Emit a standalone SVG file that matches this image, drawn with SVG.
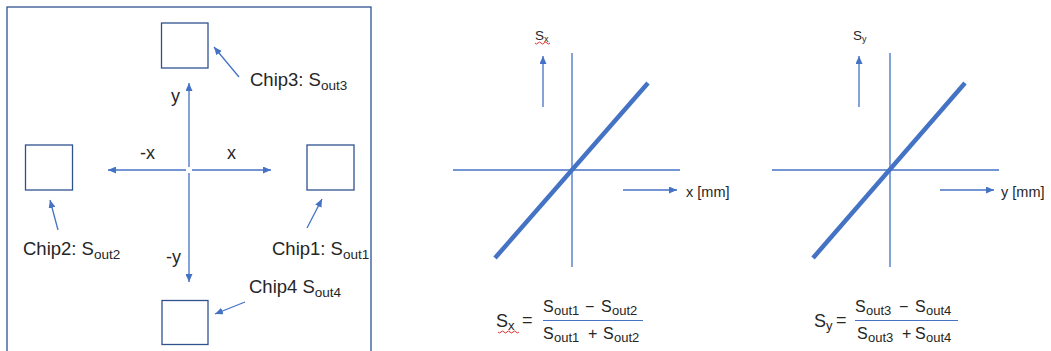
<svg xmlns="http://www.w3.org/2000/svg" width="1051" height="351" viewBox="0 0 1051 351">
<defs>
<marker id="ah" viewBox="0 0 8 7" refX="8" refY="3.5" markerWidth="8" markerHeight="7" markerUnits="userSpaceOnUse" orient="auto">
<path d="M0,0 L8,3.5 L0,7 z" fill="#4472C4"/>
</marker>
<style>
.t{font-family:"Liberation Sans",Arial,sans-serif;fill:#262626}
.lbl{font-size:18.5px}
.sub{font-size:13.5px}
.ax{font-size:18px}
.f{font-size:16px}
.fs{font-size:13px}
.g{font-size:14.5px}
.ln{stroke:#4472C4;stroke-width:1.3;fill:none}
.arr{stroke:#4472C4;stroke-width:1.3;fill:none;marker-end:url(#ah)}
.box{fill:#ffffff;stroke:#2F528F;stroke-width:1.3}
.thick{stroke:#4472C4;stroke-width:4.5;stroke-linecap:butt}
.wave{stroke:#E03030;stroke-width:1;fill:none}
</style>
</defs>
<rect width="1051" height="351" fill="#ffffff"/>

<g id="frame">
<rect x="7" y="7" width="364" height="360" fill="none" stroke="#2F528F" stroke-width="1.3"/>
</g>

<g id="chip3">
<rect class="box" x="161.5" y="23" width="46.5" height="45"/>
<text class="t lbl" x="250" y="86">Chip3: S<tspan class="sub" dy="4">out3</tspan></text>
</g>
<g id="chip2">
<rect class="box" x="25.5" y="145" width="47" height="45"/>
<text class="t lbl" x="23" y="255">Chip2: S<tspan class="sub" dy="4">out2</tspan></text>
</g>
<g id="chip1">
<rect class="box" x="307" y="145" width="47" height="45"/>
<text class="t lbl" x="272" y="255">Chip1: S<tspan class="sub" dy="4">out1</tspan></text>
</g>
<g id="chip4">
<rect class="box" x="162" y="300.5" width="46" height="44"/>
<text class="t lbl" x="249" y="293">Chip4 S<tspan class="sub" dy="4">out4</tspan></text>
</g>

<g id="axis-labels">
<text class="t ax" x="171" y="102">y</text>
<text class="t ax" x="140" y="159">-x</text>
<text class="t ax" x="227" y="159">x</text>
<text class="t ax" x="166" y="263">-y</text>
</g>

<g id="connectors">
<line class="arr" x1="189" y1="167" x2="189" y2="83"/>
<line class="arr" x1="189" y1="173" x2="189" y2="282"/>
<line class="arr" x1="186" y1="170" x2="108" y2="170"/>
<line class="arr" x1="192" y1="170" x2="271" y2="170"/>
<line class="arr" x1="239" y1="77" x2="214" y2="47"/>
<line class="arr" x1="58" y1="230" x2="50" y2="200"/>
<line class="arr" x1="307" y1="228" x2="322" y2="199"/>
<line class="arr" x1="245" y1="302" x2="215" y2="314"/>
</g>

<g id="graph-x">
<line class="ln" x1="572" y1="53" x2="572" y2="267"/>
<line class="ln" x1="453" y1="170" x2="680" y2="170"/>
<line class="thick" x1="495" y1="258" x2="648" y2="83"/>
<line class="arr" x1="543" y1="107" x2="543" y2="56"/>
<line class="arr" x1="623" y1="190" x2="677" y2="190"/>
<text class="t" font-size="13.5px" x="535" y="40">S<tspan font-size="9px" dy="2">x</tspan></text>
<path class="wave" d="M535,43 q1.5,2 3,0 t3,0 t3,0 t3,0 t3,0"/>
<text class="t g" x="686" y="197">x [mm]</text>
</g>

<g id="graph-y">
<line class="ln" x1="890" y1="53" x2="890" y2="267"/>
<line class="ln" x1="772" y1="170" x2="999" y2="170"/>
<line class="thick" x1="813" y1="258" x2="965" y2="83"/>
<line class="arr" x1="859" y1="107" x2="859" y2="56"/>
<line class="arr" x1="940" y1="190" x2="994" y2="190"/>
<text class="t" font-size="13.5px" x="853" y="40">S<tspan font-size="9px" dy="2">y</tspan></text>
<text class="t g" x="1001" y="197">y [mm]</text>
</g>

<g id="formula-x">
<text class="t" font-size="18px" x="496" y="327">S<tspan font-size="13px" dy="3">x</tspan></text>
<path class="wave" d="M498,332 q1.5,2 3,0 t3,0 t3,0 t3,0 t3,0 t3,0 t3,0"/>
<text class="t" font-size="18px" x="522" y="326">=</text>
<text class="t f" x="543" y="312">S<tspan class="fs" x="554" dy="3">out1</tspan><tspan x="585" dy="-3">−</tspan><tspan x="601">S</tspan><tspan class="fs" x="612" dy="3">out2</tspan></text>
<line x1="543" y1="320.5" x2="643" y2="320.5" stroke="#4472C4" stroke-width="1.2"/>
<text class="t f" x="543" y="339">S<tspan class="fs" x="554" dy="3">out1</tspan><tspan x="588" dy="-3">+</tspan><tspan x="603">S</tspan><tspan class="fs" x="614" dy="3">out2</tspan></text>
</g>

<g id="formula-y">
<text class="t" font-size="18px" x="814" y="327">S<tspan font-size="13px" dy="3">y</tspan></text>
<text class="t" font-size="18px" x="836" y="326">=</text>
<text class="t f" x="855" y="312">S<tspan class="fs" x="866" dy="3">out3</tspan><tspan x="899" dy="-3">−</tspan><tspan x="915">S</tspan><tspan class="fs" x="926" dy="3">out4</tspan></text>
<line x1="855" y1="320.5" x2="958" y2="320.5" stroke="#4472C4" stroke-width="1.2"/>
<text class="t f" x="857" y="339">S<tspan class="fs" x="868" dy="3">out3</tspan><tspan x="902" dy="-3">+</tspan><tspan x="915">S</tspan><tspan class="fs" x="926" dy="3">out4</tspan></text>
</g>
</svg>
